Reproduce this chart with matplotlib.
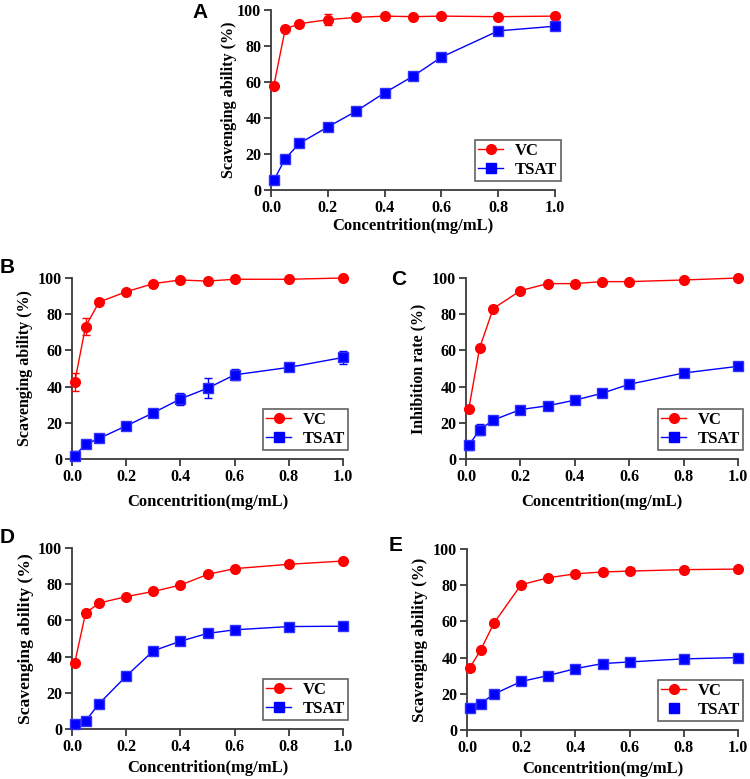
import matplotlib
matplotlib.use("Agg")
import matplotlib.pyplot as plt
from matplotlib.lines import Line2D

conc = [0.01, 0.05, 0.1, 0.2, 0.3, 0.4, 0.5, 0.6, 0.8, 1.0]
xticks = [0.0, 0.2, 0.4, 0.6, 0.8, 1.0]
yticks = [0, 20, 40, 60, 80, 100]

a_vc = [58, 89.4, 92.4, 94.6, 95.9, 96.6, 96.3, 96.6, 96.3, 96.6]
a_vc_err = [0.8, 1.0, 0.8, 3.0, 0.6, 0.5, 0.5, 0.5, 0.5, 0.5]
a_tsat = [5.4, 17.4, 25.9, 35.0, 43.8, 54.0, 63.2, 73.8, 88.4, 91.0]
a_tsat_err = [1.0, 1.0, 1.5, 1.2, 1.0, 1.0, 1.2, 1.0, 1.2, 1.0]

b_vc = [42.5, 73.2, 86.7, 92.4, 96.9, 98.9, 98.3, 99.3, 99.3, 100.0]
b_vc_err = [5.0, 4.5, 1.0, 0.8, 0.5, 0.5, 0.5, 0.5, 0.5, 0.5]
b_tsat = [1.8, 8.1, 11.4, 18.3, 25.5, 33.2, 39.1, 46.5, 50.6, 56.1]
b_tsat_err = [2.5, 1.0, 1.2, 1.0, 1.0, 3.5, 5.5, 3.0, 1.0, 3.5]

c_vc = [27.5, 61.3, 83.1, 93.0, 96.9, 96.9, 98.0, 98.0, 98.9, 100.0]
c_vc_err = [1.5, 1.0, 1.0, 0.8, 0.5, 0.5, 0.5, 0.5, 0.5, 0.5]
c_tsat = [7.5, 16.1, 21.5, 27.3, 29.4, 32.5, 36.3, 41.3, 47.5, 51.2]
c_tsat_err = [2.5, 3.0, 1.0, 1.0, 1.0, 1.0, 1.0, 1.0, 2.0, 1.0]

d_vc = [36.5, 64.0, 69.6, 73.1, 76.0, 79.5, 85.4, 88.6, 91.0, 92.8]
d_vc_err = [0.8, 2.0, 0.8, 0.5, 0.5, 0.5, 0.8, 0.5, 0.5, 0.5]
d_tsat = [3.0, 4.4, 14.0, 29.2, 43.2, 48.5, 52.8, 54.8, 56.6, 56.8]
d_tsat_err = [0.5, 0.5, 0.5, 0.5, 0.5, 0.5, 0.5, 0.5, 0.5, 0.5]

e_vc = [34.3, 44.1, 59.2, 80.3, 84.1, 86.3, 87.3, 87.8, 88.6, 88.9]
e_vc_err = [0.5, 0.5, 0.5, 0.5, 0.5, 0.5, 0.5, 0.5, 0.5, 0.5]
e_tsat = [12.2, 14.6, 19.9, 26.8, 30.1, 33.9, 36.7, 37.6, 39.3, 40.0]
e_tsat_err = [0.5, 0.5, 0.5, 0.8, 0.5, 0.5, 0.5, 0.5, 0.5, 0.5]

panels = [
    ("A", "Scavenging ability (%)", a_vc, a_vc_err, a_tsat, a_tsat_err, True),
    ("B", "Scavenging ability (%)", b_vc, b_vc_err, b_tsat, b_tsat_err, True),
    ("C", "Inhibition rate (%)", c_vc, c_vc_err, c_tsat, c_tsat_err, True),
    ("D", "Scavenging ability (%)", d_vc, d_vc_err, d_tsat, d_tsat_err, True),
    ("E", "Scavenging ability (%)", e_vc, e_vc_err, e_tsat, e_tsat_err, False),
]

W, H = 750, 779
# axes pixel boxes: left, right, top, bottom
boxes = {
    "A": (271, 555, 10, 190),
    "B": (72, 343, 278, 459),
    "C": (466, 738, 278, 459),
    "D": (72, 343, 548, 729),
    "E": (467, 738, 549, 730),
}
letter_pos = {"A": (192, 3), "B": (0, 258), "C": (391, 270), "D": (0, 528), "E": (389, 536)}
ylab_size = {"A": 11.6, "B": 11.5, "C": 11.4, "D": 12.6, "E": 12.2}
ylab_pad = {"A": 0, "B": 4, "C": 4, "D": 3, "E": 4}
xlab_pad = {"A": 2, "B": 7, "C": 7, "D": 4, "E": 4}

serif = "Liberation Serif"
fig = plt.figure(figsize=(W / 100, H / 100), dpi=100)
red = "#FF0000"
blue = "#0000FF"
spine_col = "#3a3a3a"

for name, ylab, vc, vce, ts, tse, ts_line_in_legend in panels:
    l, r, t, b = boxes[name]
    ax = fig.add_axes([l / W, 1 - b / H, (r - l) / W, (b - t) / H])
    ax.errorbar(conc, vc, yerr=vce, color=red, marker="o", markersize=7,
                lw=1.0, capsize=3, elinewidth=1.0, capthick=1.0, clip_on=False, zorder=3)
    ax.errorbar(conc, ts, yerr=tse, color=blue, marker="s", markersize=7,
                markeredgecolor="#3030ff", lw=1.0, capsize=3, elinewidth=1.0,
                capthick=1.0, clip_on=False, zorder=3)
    ax.set_xlim(0, 1.0)
    ax.set_ylim(0, 100)
    ax.set_xticks(xticks)
    ax.set_yticks(yticks)
    ax.set_xticklabels([f"{v:.1f}" for v in xticks])
    for lab in ax.get_xticklabels() + ax.get_yticklabels():
        lab.set_fontfamily(serif)
        lab.set_fontweight("bold")
        lab.set_fontsize(11.5)
    for s in ["top", "right"]:
        ax.spines[s].set_visible(False)
    for s in ["left", "bottom"]:
        ax.spines[s].set_color(spine_col)
        ax.spines[s].set_linewidth(1.3)
    ax.tick_params(direction="out", length=5, width=1.3, color=spine_col, pad=2)
    ax.set_ylabel(ylab, fontfamily=serif, fontweight="bold", fontsize=ylab_size[name],
                  labelpad=ylab_pad[name])
    ax.set_xlabel("Concentrition(mg/mL)", fontfamily=serif, fontweight="bold",
                  fontsize=12, labelpad=xlab_pad[name])
    h_vc = Line2D([], [], color=red, marker="o", markersize=7, lw=1.0)
    if ts_line_in_legend:
        h_ts = Line2D([], [], color=blue, marker="s", markersize=7, lw=1.0)
    else:
        h_ts = Line2D([], [], color=blue, marker="s", markersize=7, lw=0)
    leg = ax.legend([h_vc, h_ts], ["VC", "TSAT"], loc="lower right",
                    bbox_to_anchor=(1.02, 0.05), frameon=True, fancybox=False,
                    prop={"family": serif, "weight": "bold", "size": 12},
                    handlelength=1.5, borderpad=0.2, labelspacing=0.15,
                    handletextpad=0.7, borderaxespad=0)
    leg.get_frame().set_edgecolor(spine_col)
    leg.get_frame().set_linewidth(1.2)
    lx, ly = letter_pos[name]
    fig.text(lx / W, 1 - ly / H, name, fontfamily="Liberation Sans", fontweight="bold",
             fontsize=15, ha="left", va="top")

fig.savefig("out.png", dpi=100)
